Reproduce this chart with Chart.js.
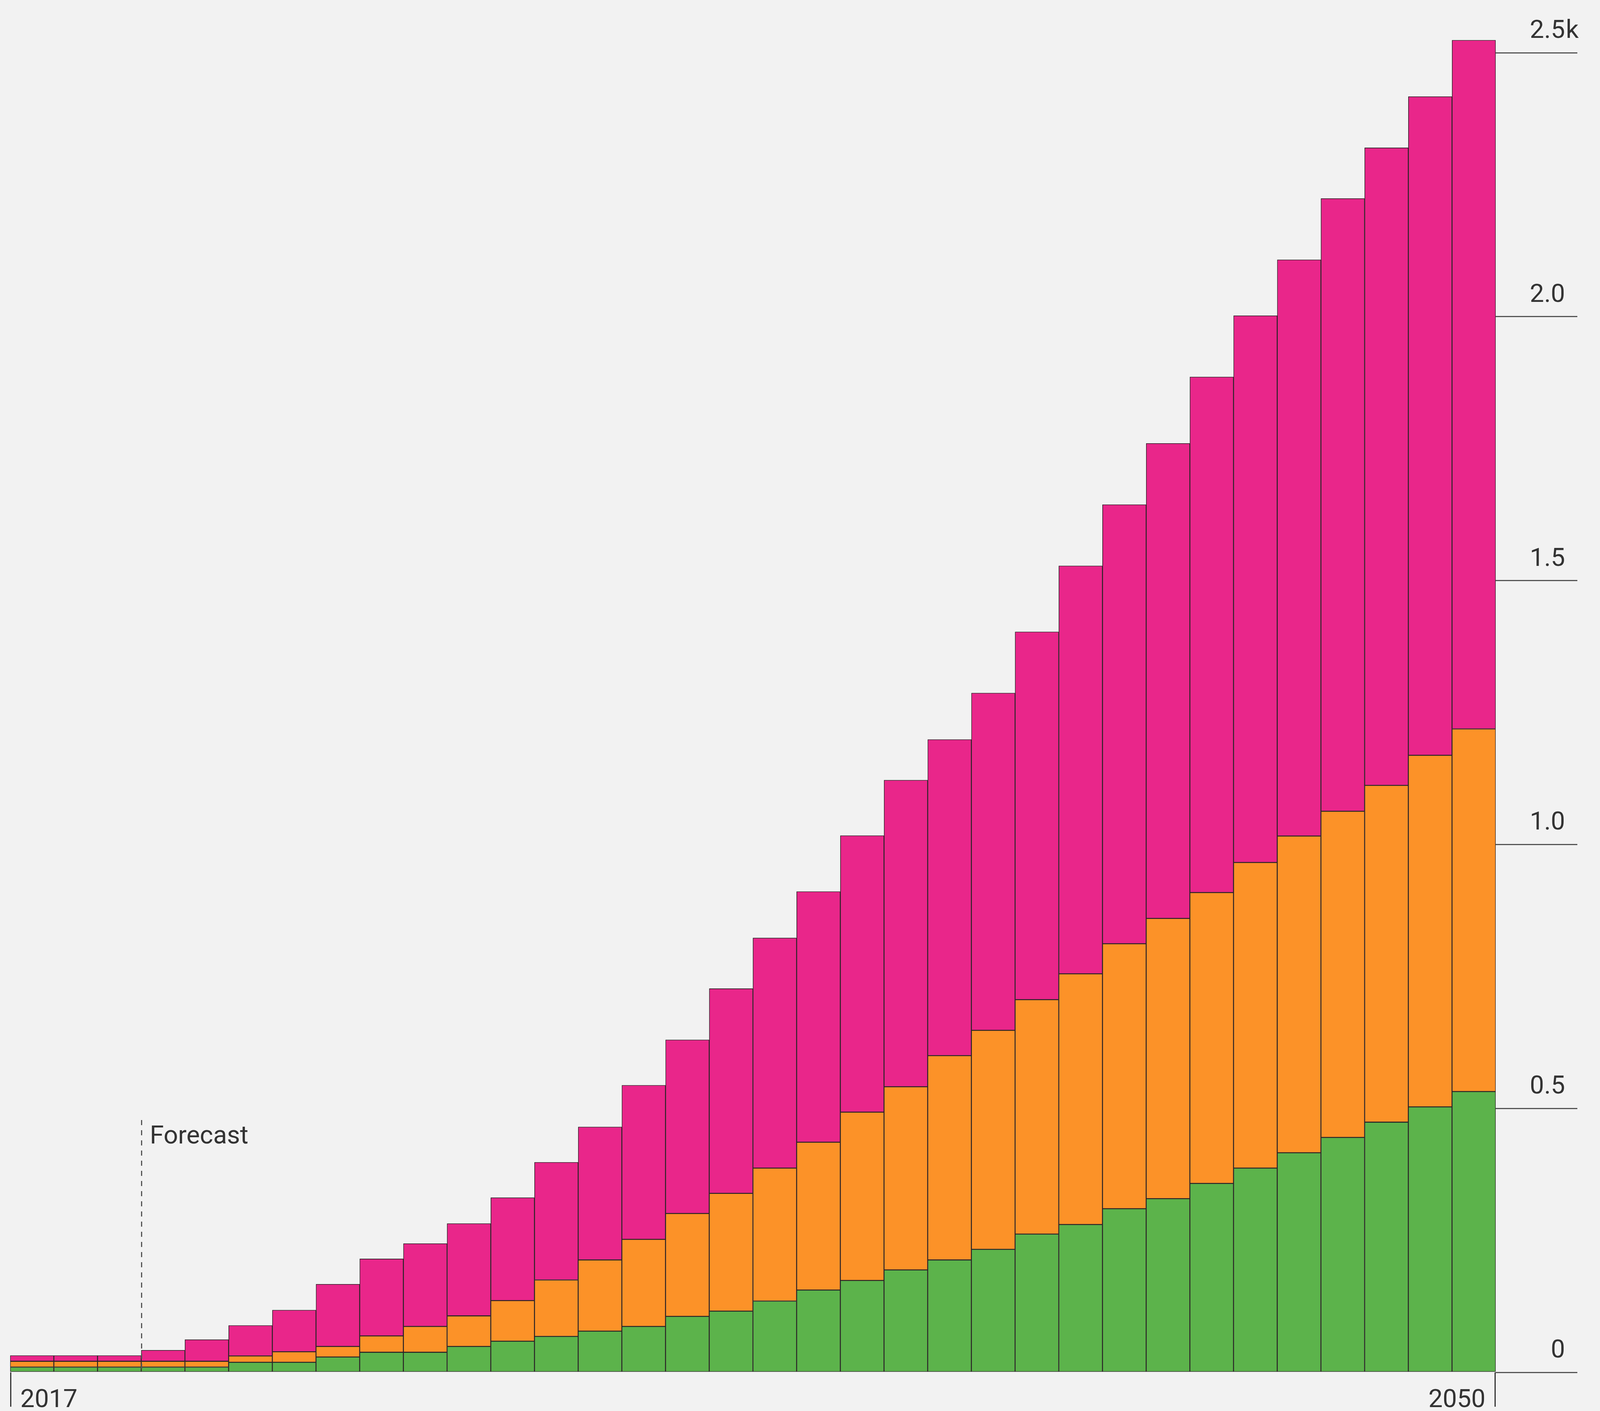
<!DOCTYPE html>
<html>
<head>
<meta charset="utf-8">
<script src="https://cdn.jsdelivr.net/npm/chart.js@4.4.1/dist/chart.umd.min.js"></script>
<style>
  html, body { margin: 0; padding: 0; background: #f2f2f2; overflow: hidden; }
  canvas { display: block; }
</style>
</head>
<body>
<canvas id="c"></canvas>
<script>
const years = [2017,2018,2019,2020,2021,2022,2023,2024,2025,2026,2027,2028,2029,2030,2031,2032,2033,2034,2035,2036,2037,2038,2039,2040,2041,2042,2043,2044,2045,2046,2047,2048,2049,2050];
const greenValues  = [10,10,10,10,10,19,19,29,38,38,49,59,68,78,87,106,116,135,156,174,194,213,233,262,280,310,329,358,387,416,445,474,503,532];
const orangeValues = [11,11,11,11,11,12,20,20,31,49,58,77,107,135,165,195,223,252,280,319,347,387,415,444,475,502,531,551,579,600,618,638,666,687];
const pinkValues   = [11,11,11,21,41,58,79,118,146,157,175,195,223,252,292,329,388,436,475,524,581,599,639,697,773,832,900,977,1036,1092,1161,1208,1248,1305];
const yTickValues = [0,500,1000,1500,2000,2500];
const yTickLabels = ['0','0.5','1.0','1.5','2.0','2.5k'];
const xEdgeLabels = ['2017','2050'];
const forecastIndex = 2.5;      // boundary between 2019 and 2020
const forecastTopValue = 478;   // where the dashed marker starts
const forecastLabel = 'Forecast';

// page size; the design was measured on a 5490 x 3613 frame
const W = window.innerWidth || 5490;
const H = window.innerHeight || 3613;
const kx = W / 5490, ky = H / 3613;
const fontPx = Math.round(68 * Math.min(1, (kx + ky) / 2 + 0.08));
const FONT = fontPx + 'px Roboto';
const TEXT = '#333333';

const canvas = document.getElementById('c');
canvas.width = W; canvas.height = H;
canvas.style.width = W + 'px'; canvas.style.height = H + 'px';

const bgPlugin = {
  id: 'bg',
  beforeDraw(chart) {
    const ctx = chart.ctx;
    ctx.save();
    ctx.fillStyle = '#f2f2f2';
    ctx.fillRect(0, 0, chart.width, chart.height);
    ctx.restore();
  }
};

const decoPlugin = {
  id: 'deco',
  afterDraw(chart) {
    const ctx = chart.ctx;
    const x = chart.scales.x, y = chart.scales.y;
    const area = chart.chartArea;
    const left = area.left, right = area.right, bottom = y.getPixelForValue(0);
    ctx.save();
    // edge ticks below baseline
    ctx.strokeStyle = '#333';
    ctx.lineWidth = 3;
    [left + 1.5, right - 1.5].forEach(px => {
      ctx.beginPath();
      ctx.moveTo(px, bottom);
      ctx.lineTo(px, bottom + 88 * ky);
      ctx.stroke();
    });
    // x edge labels
    ctx.font = FONT;
    ctx.fillStyle = TEXT;
    ctx.textBaseline = 'alphabetic';
    ctx.textAlign = 'left';
    ctx.fillText(xEdgeLabels[0], left + 35 * kx, bottom + 89 * ky);
    ctx.textAlign = 'right';
    ctx.fillText(xEdgeLabels[1], right - 35 * kx, bottom + 89 * ky);
    // y labels (numbers right-aligned, unit suffix hanging to the right)
    y.ticks.forEach(t => {
      const i = yTickValues.indexOf(t.value);
      if (i < 0) return;
      const py = y.getPixelForValue(t.value) - 38 * ky;
      let lab = yTickLabels[i];
      let suffix = '';
      if (lab.endsWith('k')) { suffix = 'k'; lab = lab.slice(0, -1); }
      const ax = right + 238 * kx;
      ctx.textAlign = 'right';
      ctx.fillText(lab, ax, py);
      if (suffix) { ctx.textAlign = 'left'; ctx.fillText(suffix, ax + 2, py); }
    });
    // forecast marker
    const fx = Math.round(x.getPixelForValue(forecastIndex)) + 0.5;
    const fTop = y.getPixelForValue(forecastTopValue);
    ctx.strokeStyle = '#555';
    ctx.lineWidth = 3;
    ctx.setLineDash([13 * ky, 13 * ky]);
    ctx.beginPath();
    ctx.moveTo(fx, fTop);
    ctx.lineTo(fx, bottom);
    ctx.stroke();
    ctx.setLineDash([]);
    ctx.textAlign = 'left';
    ctx.fillStyle = TEXT;
    ctx.fillText(forecastLabel, fx + 28 * kx, fTop + 60 * ky);
    ctx.restore();
  }
};

const border = '#2b2427';
function ds(label, data, color) {
  return {
    label, data,
    backgroundColor: color,
    borderColor: border,
    borderWidth: 1.6,
    borderSkipped: false,
    categoryPercentage: 1.0,
    barPercentage: 1.0
  };
}

new Chart(canvas, {
  type: 'bar',
  data: {
    labels: years.map(String),
    datasets: [
      ds('Green', greenValues, '#5cb34b'),
      ds('Orange', orangeValues, '#fc9228'),
      ds('Pink', pinkValues, '#e9268a')
    ]
  },
  options: {
    responsive: false,
    animation: false,
    devicePixelRatio: 1,
    layout: { padding: { left: Math.round(35 * kx), right: Math.round(78 * kx), top: 0, bottom: Math.round(99 * ky) } },
    plugins: { legend: { display: false }, tooltip: { enabled: false }, title: { display: false } },
    scales: {
      x: { stacked: true, display: false },
      y: {
        stacked: true,
        position: 'right',
        min: 0,
        max: 2600,
        ticks: { display: false },
        afterBuildTicks(scale) {
          scale.ticks = yTickValues.map(v => ({ value: v }));
        },
        border: { display: false },
        grid: {
          drawOnChartArea: false,
          drawTicks: true,
          tickLength: Math.round(280 * kx),
          color: '#555',
          lineWidth: 3,
          tickColor: '#555',
          tickWidth: 3
        }
      }
    }
  },
  plugins: [bgPlugin, decoPlugin]
});
</script>
</body>
</html>
